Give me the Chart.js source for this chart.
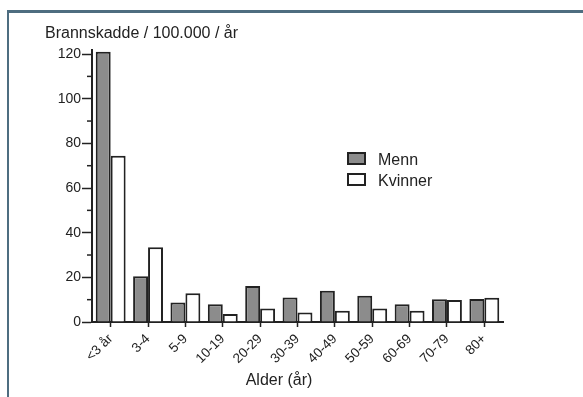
<!DOCTYPE html>
<html>
<head>
<meta charset="utf-8">
<script src="https://cdn.jsdelivr.net/npm/chart.js@4/dist/chart.umd.min.js"></script>
<style>
  body { margin: 0; background: #fff; font-family: "Liberation Sans", Arial, sans-serif; }
  #ramme { position: absolute; left: 7px; top: 10px; right: 0; bottom: 0; border-top: 3px solid #4e6d80; border-left: 2px solid #4e6d80; }
  #wrap { position: absolute; left: 0; top: 0; width: 583px; height: 397px; }
  #legende { position: absolute; left: 347px; top: 152px; font-size: 16px; color: #222; }
  #legende div { height: 21px; line-height: 16px; display: flex; align-items: flex-start; }
  #legende span.boks { display: inline-block; width: 15px; height: 9px; border: 2px solid #222; margin-right: 12px; margin-top: 0px; }
  #xtittel { position: absolute; left: 279px; top: 371px; transform: translateX(-50%); font-size: 16px; color: #222; white-space: nowrap; }
</style>
</head>
<body>
<div id="ramme"></div>
<div id="wrap"><canvas id="graf" width="583" height="397"></canvas></div>
<div id="legende">
  <div><span class="boks" style="background:#8c8c8c"></span>Menn</div>
  <div><span class="boks" style="background:#fff"></span>Kvinner</div>
</div>
<div id="xtittel">Alder (år)</div>
<script>
const aldersgrupper = ["<3 år", "3-4", "5-9", "10-19", "20-29", "30-39", "40-49", "50-59", "60-69", "70-79", "80+"];
const menn = [121, 20.5, 8.7, 7.9, 16.1, 11, 14, 11.8, 8, 10.2, 10.3];
const kvinner = [74.5, 33.5, 12.9, 3.6, 6.1, 4.3, 5, 6.1, 5, 9.8, 10.9];
const hovedTicks = [0, 20, 40, 60, 80, 100, 120];
const smaaTicks = [10, 30, 50, 70, 90, 110];

// korte streker mellom hovedtickene på y-aksen
const smaaStreker = {
  id: "smaaStreker",
  afterDraw(chart) {
    const ctx = chart.ctx;
    const y = chart.scales.y;
    const x0 = chart.chartArea.left;
    ctx.save();
    ctx.strokeStyle = "#222";
    ctx.lineWidth = 1.5;
    smaaTicks.forEach((v) => {
      const py = y.getPixelForValue(v);
      ctx.beginPath();
      ctx.moveTo(x0 - 5, py);
      ctx.lineTo(x0, py);
      ctx.stroke();
    });
    ctx.restore();
  }
};

new Chart(document.getElementById("graf"), {
  type: "bar",
  data: {
    labels: aldersgrupper,
    datasets: [
      { label: "Menn", data: menn, backgroundColor: "#8c8c8c", borderColor: "#222", borderWidth: 2 },
      { label: "Kvinner", data: kvinner, backgroundColor: "#fff", borderColor: "#222", borderWidth: 2 }
    ]
  },
  options: {
    responsive: false,
    animation: false,
    layout: { padding: { left: 45, right: 80, top: 24, bottom: 0 } },
    datasets: { bar: { barPercentage: 1.0, categoryPercentage: 0.8 } },
    plugins: {
      legend: { display: false },
      tooltip: { enabled: false },
      title: {
        display: true,
        text: "Brannskadde / 100.000 / år",
        align: "start",
        color: "#222",
        font: { family: "Liberation Sans", size: 16, weight: "normal" },
        padding: { top: 0, bottom: 6.4 }
      }
    },
    scales: {
      x: {
        grid: { drawOnChartArea: false, offset: false, tickLength: 5, color: "#222", tickWidth: 1.5 },
        border: { color: "#222", width: 2 },
        ticks: { minRotation: 45, maxRotation: 45, padding: 4, color: "#222", font: { family: "Liberation Sans", size: 13.5 } },
        afterFit(scale) { scale.height = 75; }
      },
      y: {
        min: 0,
        max: 122,
        grid: { drawOnChartArea: false, tickLength: 10, color: "#222", tickWidth: 1.5 },
        border: { color: "#222", width: 2 },
        ticks: { stepSize: 20, padding: 1, color: "#222", font: { family: "Liberation Sans", size: 14 } },
        afterBuildTicks(scale) { scale.ticks = hovedTicks.map((v) => ({ value: v })); },
        afterFit(scale) { scale.width = 47; }
      }
    }
  },
  plugins: [smaaStreker]
});
</script>
</body>
</html>
